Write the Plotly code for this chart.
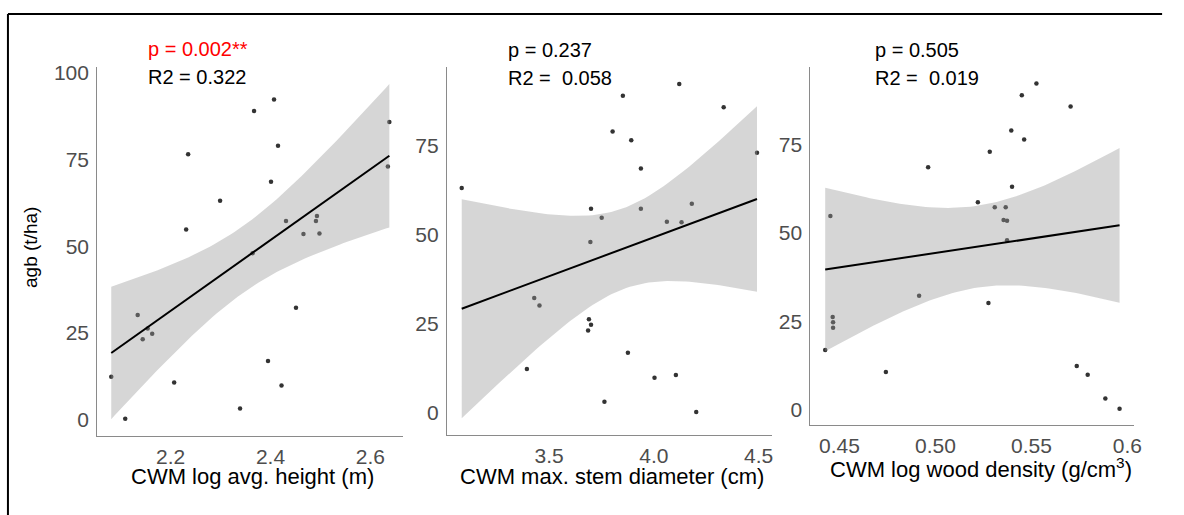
import numpy as np
import plotly.graph_objects as go

# ---------------- data ----------------
agb = [0.3, 3.2, 9.9, 10.7, 12.4, 16.9, 23.2, 24.8, 26.3, 30.2, 32.3, 48.0, 53.5,
       53.7, 54.8, 57.3, 57.3, 58.7, 63.1, 68.6, 73.0, 76.5, 79.0, 85.8, 89.0, 92.3]
log_height = [2.109, 2.339, 2.422, 2.207, 2.081, 2.395, 2.144, 2.163, 2.154, 2.134,
              2.451, 2.364, 2.466, 2.498, 2.231, 2.431, 2.491, 2.493, 2.299, 2.401,
              2.635, 2.235, 2.415, 2.638, 2.367, 2.407]
stem_diam = [4.202, 3.764, 4.003, 4.105, 3.394, 3.876, 3.686, 3.700, 3.690, 3.454,
             3.429, 3.697, 4.132, 4.062, 3.751, 3.700, 3.938, 4.181, 3.083, 3.938,
             4.492, 3.892, 3.803, 4.333, 3.852, 4.121]
wood_dens = [0.5959, 0.5885, 0.5793, 0.4742, 0.5736, 0.4426, 0.4467, 0.4467, 0.4465,
             0.5276, 0.4915, 0.5373, 0.5373, 0.5355, 0.4453, 0.5309, 0.5366, 0.5221,
             0.5399, 0.4962, 0.5283, 0.5462, 0.5395, 0.5704, 0.5450, 0.5526]

x_titles = ["CWM log avg. height (m)", "CWM max. stem diameter (cm)",
            "CWM log wood density (g/cm<sup>3</sup>)"]
p_labels = ["p = 0.002**", "p = 0.237", "p = 0.505"]
r2_labels = ["R2 = 0.322", "R2 =  0.058", "R2 =  0.019"]
x_tickvals = [[2.2, 2.4, 2.6], [3.5, 4.0, 4.5], [0.45, 0.50, 0.55, 0.60]]
x_ticktext = [["2.2", "2.4", "2.6"], ["3.5", "4.0", "4.5"], ["0.45", "0.50", "0.55", "0.6"]]
y_tickvals = [0, 25, 50, 75, 100]
y_ticktext = ["0", "25", "50", "75", "100"]

# ---------------- layout geometry (pixels) ----------------
W, H = 1184, 515
def fx(p): return p / W
def fy(p): return 1 - p / H

panels = [  # x0, x1, ytop, ybottom
    (98, 406, 62, 435),
    (450, 777, 62, 434),
    (816, 1142, 62, 424),
]
p_pos = [(147, 44), (509, 45), (879, 45)]
r2_pos = [(147, 72), (509, 73), (879, 73)]
p_colors = ["#ff0000", "#000000", "#000000"]
xtitle_pos = [(254, 476), (616, 476), (988, 467)]

FONT = "Liberation Sans, Arial, sans-serif"
T_CRIT = 2.0639  # t quantile 0.975, df = 24


def lm_fit(x, y):
    x = np.asarray(x, float)
    y = np.asarray(y, float)
    n = len(x)
    b1, b0 = np.polyfit(x, y, 1)
    xs = np.linspace(x.min(), x.max(), 80)
    yh = b0 + b1 * xs
    res = y - (b0 + b1 * x)
    s = np.sqrt(np.sum(res ** 2) / (n - 2))
    sxx = np.sum((x - x.mean()) ** 2)
    se = s * np.sqrt(1.0 / n + (xs - x.mean()) ** 2 / sxx)
    return xs, yh, yh - T_CRIT * se, yh + T_CRIT * se


fig = go.Figure()
xs_all = [log_height, stem_diam, wood_dens]
annotations = []
for i, xv in enumerate(xs_all):
    k = "" if i == 0 else str(i + 1)
    xa, ya = "x" + k, "y" + k
    xs, yh, lo, hi = lm_fit(xv, agb)
    # points first (ribbon drawn over them like ggplot)
    fig.add_trace(go.Scatter(x=xv, y=agb, mode="markers", xaxis=xa, yaxis=ya,
                             marker=dict(size=4.5, color="#333333"),
                             hoverinfo="skip"))
    fig.add_trace(go.Scatter(x=np.concatenate([xs, xs[::-1]]),
                             y=np.concatenate([hi, lo[::-1]]),
                             mode="lines", fill="toself",
                             fillcolor="rgba(153,153,153,0.4)",
                             line=dict(width=0), xaxis=xa, yaxis=ya,
                             hoverinfo="skip"))
    fig.add_trace(go.Scatter(x=xs, y=yh, mode="lines", xaxis=xa, yaxis=ya,
                             line=dict(color="black", width=2), hoverinfo="skip"))

    xmin, xmax = min(xv), max(xv)
    dx = xmax - xmin
    ymin = min(min(agb), lo.min())
    ymax = max(max(agb), hi.max())
    dy = ymax - ymin
    x0, x1, yt, yb = panels[i]
    axis_common = dict(showline=True, linecolor="#8a8a8a", linewidth=1.3,
                       ticks="", showgrid=False, zeroline=False,
                       tickfont=dict(family=FONT, size=21, color="#4d4d4d"))
    fig.update_layout(**{
        "xaxis" + k: dict(domain=[fx(x0), fx(x1)], anchor=ya,
                          range=[xmin - 0.05 * dx, xmax + 0.05 * dx],
                          tickvals=x_tickvals[i], ticktext=x_ticktext[i],
                          ticklabelstandoff=2, **axis_common),
        "yaxis" + k: dict(domain=[fy(yb), fy(yt)], anchor=xa,
                          range=[ymin - 0.05 * dy, ymax + 0.05 * dy],
                          tickvals=y_tickvals, ticktext=y_ticktext,
                          ticklabelstandoff=3, **axis_common),
    })
    annotations.append(dict(text=p_labels[i], x=fx(p_pos[i][0]), y=fy(p_pos[i][1]),
                            xref="paper", yref="paper", xanchor="left", yanchor="middle",
                            showarrow=False,
                            font=dict(family=FONT, size=20, color=p_colors[i])))
    annotations.append(dict(text=r2_labels[i], x=fx(r2_pos[i][0]), y=fy(r2_pos[i][1]),
                            xref="paper", yref="paper", xanchor="left", yanchor="middle",
                            showarrow=False,
                            font=dict(family=FONT, size=20, color="black")))
    annotations.append(dict(text=x_titles[i], x=fx(xtitle_pos[i][0]), y=fy(xtitle_pos[i][1]),
                            xref="paper", yref="paper", xanchor="center", yanchor="middle",
                            showarrow=False,
                            font=dict(family=FONT, size=22, color="black")))

annotations.append(dict(text="agb (t/ha)", x=fx(30), y=fy(244), xref="paper", yref="paper",
                        xanchor="center", yanchor="middle", textangle=-90, showarrow=False,
                        font=dict(family=FONT, size=19, color="black")))

fig.update_layout(
    width=W, height=H, margin=dict(l=0, r=0, t=0, b=0),
    paper_bgcolor="white", plot_bgcolor="white", showlegend=False,
    annotations=annotations,
    shapes=[
        dict(type="line", xref="paper", yref="paper", x0=fx(8), x1=fx(1170), y0=fy(8), y1=fy(8),
             line=dict(color="black", width=2)),
        dict(type="line", xref="paper", yref="paper", x0=fx(8), x1=fx(8), y0=fy(8), y1=0,
             line=dict(color="black", width=2)),
    ],
)

fig.write_html("out.html")
